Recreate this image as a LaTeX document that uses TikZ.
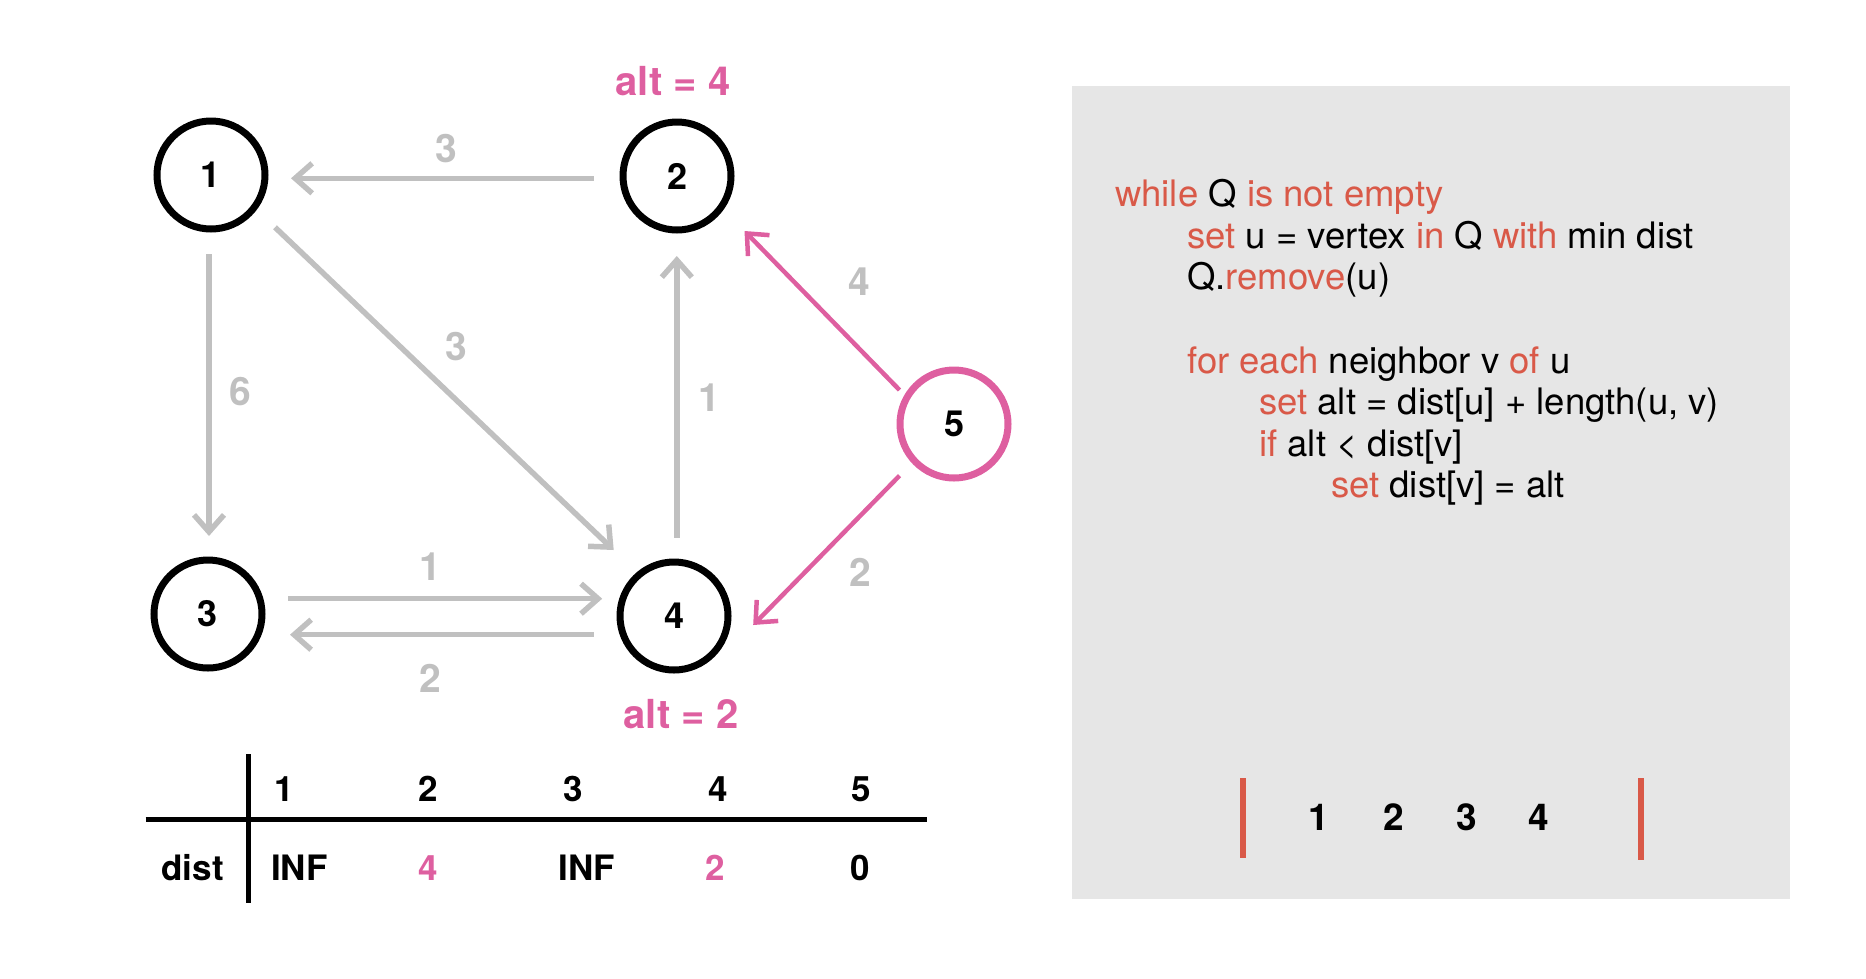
\documentclass[tikz,border=0pt]{standalone}
\usepackage{fontspec}
\setmainfont{TeX Gyre Heros}
\usetikzlibrary{arrows.meta,calc}
\definecolor{codered}{RGB}{217,89,72}
\definecolor{hlpink}{RGB}{222,95,160}
\definecolor{edgegray}{RGB}{192,192,192}
\definecolor{panelgray}{RGB}{230,230,230}
\begin{document}
\begin{tikzpicture}[x=1pt,y=-1pt,
  vert/.style={circle, draw=black, line width=7pt, minimum size=108pt, inner sep=0pt, font=\fontsize{36}{36}\selectfont\bfseries},
  pinkvert/.style={vert, draw=hlpink},
  gedge/.style={draw=edgegray, line width=5.5pt, -{Straight Barb[length=17pt,width=30pt]}},
  pedge/.style={draw=hlpink, line width=4.5pt, -{Straight Barb[length=17pt,width=30pt]}},
  elabel/.style={text=edgegray, anchor=base, inner sep=0pt, font=\fontsize{39}{39}\selectfont\bfseries},
  altlabel/.style={text=hlpink, anchor=base, inner sep=0pt, font=\fontsize{40}{40}\selectfont\bfseries},
  tabtxt/.style={anchor=base west, inner sep=0pt, font=\fontsize{35}{35}\selectfont\bfseries},
  codeline/.style={anchor=base west, inner sep=0pt, font=\fontsize{36.5}{36.5}\selectfont},
  qtxt/.style={anchor=base, inner sep=0pt, font=\fontsize{37}{37}\selectfont\bfseries},
  tabline/.style={draw=black, line width=5pt},
  qbar/.style={draw=codered, line width=5.5pt}
]
\useasboundingbox (0,0) rectangle (1866,978);

% code panel
\fill[panelgray] (1072,86) rectangle (1790,899);

% vertices
\node[vert] (n1) at (211,175) {1};
\node[vert] (n2) at (677,176) {2};
\node[vert] (n3) at (208,614) {3};
\node[vert] (n4) at (674,616) {4};
\node[pinkvert] (n5) at (954,424) {5};

% gray edges
\draw[gedge] ($(n2)+(-83.4,2.3)$) -- ($(n1)+(80,3.3)$);
\draw[gedge] ($(n1)+(-2,79)$) -- ($(n3)+(1,-78)$);
\draw[gedge] ($(n1)+(64,52.3)$) -- ($(n4)+(-60.3,-66)$);
\draw[gedge] ($(n4)+(2.8,-78.3)$) -- ($(n2)+(-0.2,80)$);
\draw[gedge] ($(n3)+(80.2,-15.3)$) -- ($(n4)+(-71.8,-17.3)$);
\draw[gedge] ($(n4)+(-80.4,18.7)$) -- ($(n3)+(82,20.7)$);
% pink edges
\draw[pedge] ($(n5)+(-54.5,-34)$) -- ($(n2)+(67.5,55)$);
\draw[pedge] ($(n5)+(-54.5,51.7)$) -- ($(n4)+(79.2,9)$);

% edge labels
\node[elabel] (l21) at (446,162.7) {3};
\node[elabel] (l13) at (240,405.7) {6};
\node[elabel] (l14) at (456,360) {3};
\node[elabel] (l42) at (709,411.7) {1};
\node[elabel] (l34) at (430,580.7) {1};
\node[elabel] (l43) at (430,692.7) {2};
\node[elabel] (l52) at (859,295) {4};
\node[elabel] (l54) at (860,586.7) {2};

% alt labels
\node[altlabel] (alt2) at (673,95) {alt = 4};
\node[altlabel] (alt4) at (681,728) {alt = 2};

% dist table
\draw[tabline] (248.6,754) -- (248.6,903);
\draw[tabline] (145.7,819) -- (927.2,819);
\node[tabtxt] (h1) at (274,801.7) {1};
\node[tabtxt] (h2) at (418.5,801.7) {2};
\node[tabtxt] (h3) at (563,801.7) {3};
\node[tabtxt] (h4) at (708,801.7) {4};
\node[tabtxt] (h5) at (851.5,801.7) {5};
\node[tabtxt, anchor=base east] (dist) at (224,880) {dist};
\node[tabtxt] (d1) at (271,880) {INF};
\node[tabtxt, text=hlpink] (d2) at (418,880) {4};
\node[tabtxt] (d3) at (558.5,880) {INF};
\node[tabtxt, text=hlpink] (d4) at (705,880) {2};
\node[tabtxt] (d5) at (850,880) {0};

% code
\node[codeline] (c1) at (1115,206.5) {\textcolor{codered}{while} Q \textcolor{codered}{is not empty}};
\node[codeline] (c2) at (1187,248) {\textcolor{codered}{set} u = vertex \textcolor{codered}{in} Q \textcolor{codered}{with} min dist};
\node[codeline] (c3) at (1187,289.5) {Q.\textcolor{codered}{remove}(u)};
\node[codeline] (c5) at (1187,373) {\textcolor{codered}{for each} neighbor v \textcolor{codered}{of} u};
\node[codeline] (c6) at (1259,414.5) {\textcolor{codered}{set} alt = dist[u] + length(u, v)};
\node[codeline] (c7) at (1259,456) {\textcolor{codered}{if} alt < dist[v]};
\node[codeline] (c8) at (1331,497.5) {\textcolor{codered}{set} dist[v] = alt};

% queue
\draw[qbar] (1243,778) -- (1243,858);
\draw[qbar] (1641,778) -- (1641,860);
\node[qtxt] (q1) at (1319,830.7) {1};
\node[qtxt] (q2) at (1394,830.7) {2};
\node[qtxt] (q3) at (1467,830.7) {3};
\node[qtxt] (q4) at (1539,830.7) {4};
\end{tikzpicture}
\end{document}
